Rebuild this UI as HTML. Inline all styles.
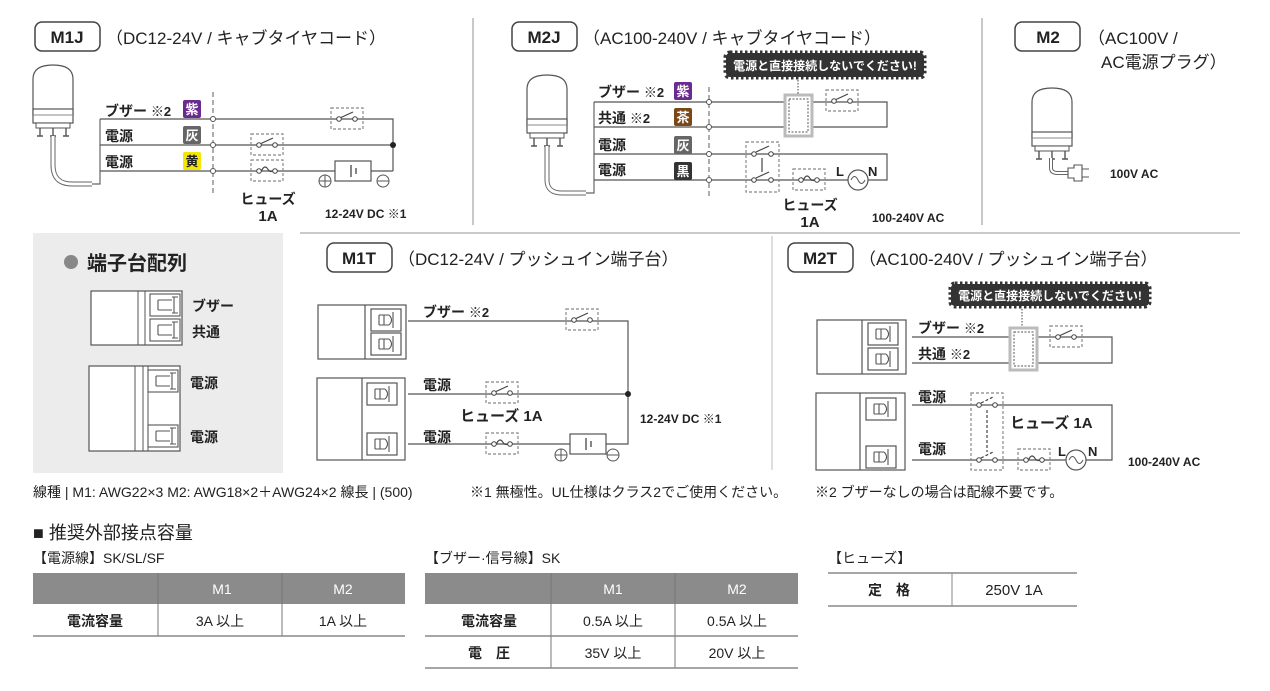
<!DOCTYPE html>
<html><head><meta charset="utf-8"><style>
html,body{margin:0;padding:0;background:#fff;}
svg{display:block;font-family:"Liberation Sans","Noto Sans CJK JP",sans-serif;}
text{fill:#222;}
</style></head><body>
<svg width="1270" height="691" viewBox="0 0 1270 691" xmlns="http://www.w3.org/2000/svg">
<defs>
<g id="sw">
<rect x="0" y="0" width="32" height="21" fill="none" stroke="#888" stroke-width="1.2" stroke-dasharray="3 2"/>
<circle cx="8" cy="11" r="2.3" fill="#fff" stroke="#444" stroke-width="1"/>
<circle cx="24" cy="11" r="2.3" fill="#fff" stroke="#444" stroke-width="1"/>
<line x1="10" y1="9.5" x2="22" y2="4" stroke="#444" stroke-width="1.2"/>
</g>
<g id="fu">
<rect x="0" y="0" width="32" height="21" fill="none" stroke="#888" stroke-width="1.2" stroke-dasharray="3 2"/>
<circle cx="8" cy="11" r="2.3" fill="#fff" stroke="#444" stroke-width="1"/>
<circle cx="24" cy="11" r="2.3" fill="#fff" stroke="#444" stroke-width="1"/>
<path d="M10.5 11 Q13 5 16 8 Q19 13 21.5 11" fill="none" stroke="#444" stroke-width="1.2"/>
</g>
<g id="lamp">
<path d="M0 50 L0 14 Q0 0 20 0 Q40 0 40 14 L40 50 Z" fill="#fff" stroke="#555" stroke-width="1.2"/>
<rect x="0" y="44" width="40" height="14" fill="#fff" stroke="#555" stroke-width="1.2"/>
<line x1="0" y1="50" x2="40" y2="50" stroke="#888"/>
<rect x="3" y="58" width="34" height="5" fill="#fff" stroke="#555"/>
<path d="M7 63 v8 M4 71 h6 M20 63 v8 M17 71 h6 M33 63 v8 M30 71 h6" stroke="#555" stroke-width="1.4" fill="none"/>
</g>
<g id="sock">
<rect x="0" y="0" width="30" height="22" fill="#fff" stroke="#555" stroke-width="1.2"/>
<path d="M8 6 h10 M8 16 h10 M8 6 v10 M13 6 v10 M18 6 q5 5 0 10 M22 3 v16" fill="none" stroke="#555" stroke-width="1.1"/>
</g>
<g id="tb">
<rect x="0" y="0" width="30" height="22" fill="none" stroke="#555" stroke-width="1.1"/>
<path d="M8 6 h14 M8 16 h14 M8 6 v10 M24 3 v16 M22 3 h6 M22 19 h6" fill="none" stroke="#555" stroke-width="1.1"/>
</g>
</defs>

<line x1="473" y1="18" x2="473" y2="225" stroke="#aaa" stroke-width="1.3"/>
<line x1="982" y1="18" x2="982" y2="225" stroke="#aaa" stroke-width="1.3"/>
<line x1="300" y1="233" x2="1240" y2="233" stroke="#aaa" stroke-width="1.3"/>
<line x1="772" y1="236" x2="772" y2="470" stroke="#ccc" stroke-width="1.3"/>

<!-- ===== M1J ===== -->
<rect x="35" y="22" width="65" height="29" rx="7" fill="#fff" stroke="#444" stroke-width="1.5"/>
<text x="67" y="43" font-size="17" font-weight="bold" text-anchor="middle">M1J</text>
<text x="106" y="44" font-size="17">（DC12-24V / キャブタイヤコード）</text>
<use href="#lamp" x="33" y="65"/>
<path d="M53 136 V165 Q53 184 72 184 H92" fill="none" stroke="#666" stroke-width="5"/>
<path d="M53 136 V165 Q53 184 72 184 H92" fill="none" stroke="#fff" stroke-width="3"/>
<path d="M92 184 H100 V119" fill="none" stroke="#666" stroke-width="1.2"/>
<line x1="213" y1="92" x2="213" y2="193" stroke="#777" stroke-width="1.2" stroke-dasharray="5 3"/>
<g stroke="#555" stroke-width="1.2" fill="none">
<path d="M100 119 H393 V171"/>
<path d="M100 145 H393"/>
<path d="M100 171 H335 M371 171 H393"/>
</g>
<circle cx="393" cy="145" r="3" fill="#222"/>
<g fill="#fff" stroke="#555"><circle cx="213" cy="119" r="2.5"/><circle cx="213" cy="145" r="2.5"/><circle cx="213" cy="171" r="2.5"/></g>
<use href="#sw" x="331" y="108"/>
<use href="#sw" x="251" y="134"/>
<use href="#fu" x="251" y="160"/>
<rect x="335" y="161" width="36" height="20" fill="#fff" stroke="#555" stroke-width="1.2"/>
<path d="M351 165 v12 M356 168 v6" stroke="#444" stroke-width="1.3"/>
<circle cx="325" cy="181" r="6" fill="#fff" stroke="#555"/><path d="M319 181 h12 M325 175 v12" stroke="#555"/>
<circle cx="383" cy="181" r="6" fill="#fff" stroke="#555"/><path d="M377 181 h12" stroke="#555"/>
<text x="105" y="116" font-size="14" font-weight="bold">ブザー <tspan font-size="13">※2</tspan></text>
<text x="105" y="141" font-size="14" font-weight="bold">電源</text>
<text x="105" y="167" font-size="14" font-weight="bold">電源</text>
<rect x="183" y="100" width="18" height="18" rx="2" fill="#6b2a8e"/><text x="192" y="114" font-size="13" text-anchor="middle" style="fill:#fff" font-weight="bold">紫</text>
<rect x="183" y="126" width="18" height="18" rx="2" fill="#666"/><text x="192" y="140" font-size="13" text-anchor="middle" style="fill:#fff" font-weight="bold">灰</text>
<rect x="183" y="152" width="18" height="18" rx="2" fill="#f3e600"/><text x="192" y="166" font-size="13" text-anchor="middle" font-weight="bold">黄</text>
<text x="268" y="204" font-size="14" font-weight="bold" text-anchor="middle">ヒューズ</text>
<text x="268" y="221" font-size="15" font-weight="bold" text-anchor="middle">1A</text>
<text x="325" y="218" font-size="12" font-weight="bold">12-24V DC ※1</text>

<!-- ===== M2J ===== -->
<rect x="512" y="22" width="65" height="29" rx="7" fill="#fff" stroke="#444" stroke-width="1.5"/>
<text x="544" y="43" font-size="17" font-weight="bold" text-anchor="middle">M2J</text>
<text x="583" y="44" font-size="17">（AC100-240V / キャブタイヤコード）</text>
<rect x="726" y="53" width="198" height="24" rx="4" fill="#333" stroke="#333" stroke-width="5" stroke-dasharray="2.5 2.5"/>
<text x="825" y="70" font-size="12" font-weight="bold" text-anchor="middle" style="fill:#fff">電源と直接接続しないでください!</text>
<line x1="798" y1="80" x2="798" y2="94" stroke="#444" stroke-dasharray="1.5 1.5"/>
<use href="#lamp" x="527" y="75"/>
<path d="M547 146 V180 Q547 193 562 193 H586" fill="none" stroke="#666" stroke-width="5"/>
<path d="M547 146 V180 Q547 193 562 193 H586" fill="none" stroke="#fff" stroke-width="3"/>
<path d="M586 193 H594 V102" fill="none" stroke="#666" stroke-width="1.2"/>
<line x1="709" y1="87" x2="709" y2="197" stroke="#777" stroke-width="1.2" stroke-dasharray="5 3"/>
<g stroke="#555" stroke-width="1.2" fill="none">
<path d="M594 102 H887 V127 H594"/>
<path d="M594 154 H887 V180 H868 M848 180 H594"/>
</g>
<g fill="#fff" stroke="#555"><circle cx="709" cy="102" r="2.5"/><circle cx="709" cy="127" r="2.5"/><circle cx="709" cy="154" r="2.5"/><circle cx="709" cy="180" r="2.5"/></g>
<rect x="785" y="95" width="27" height="41" fill="#fff" stroke="#bbb" stroke-width="3"/>
<rect x="789" y="99" width="19" height="33" fill="#fff" stroke="#555" stroke-dasharray="2 1.5"/>
<use href="#sw" x="826" y="90"/>
<rect x="746" y="142" width="33" height="50" fill="none" stroke="#888" stroke-width="1.2" stroke-dasharray="3 2"/>
<g fill="#fff" stroke="#444"><circle cx="754" cy="154" r="2.3"/><circle cx="771" cy="154" r="2.3"/><circle cx="754" cy="180" r="2.3"/><circle cx="771" cy="180" r="2.3"/></g>
<path d="M756 152 L769 146 M756 178 L769 172 M762 158 v14" stroke="#444" stroke-width="1.2" fill="none"/>
<use href="#fu" x="793" y="169"/>
<circle cx="858" cy="180" r="10" fill="#fff" stroke="#555" stroke-width="1.2"/>
<path d="M851 180 Q854.5 173 858 180 Q861.5 187 865 180" fill="none" stroke="#555"/>
<text x="836" y="176" font-size="13" font-weight="bold">L</text>
<text x="868" y="176" font-size="13" font-weight="bold">N</text>
<text x="598" y="97" font-size="14" font-weight="bold">ブザー <tspan font-size="13">※2</tspan></text>
<text x="598" y="123" font-size="14" font-weight="bold">共通 <tspan font-size="13">※2</tspan></text>
<text x="598" y="150" font-size="14" font-weight="bold">電源</text>
<text x="598" y="175" font-size="14" font-weight="bold">電源</text>
<rect x="674" y="82" width="18" height="18" rx="2" fill="#6b2a8e"/><text x="683" y="96" font-size="13" text-anchor="middle" style="fill:#fff" font-weight="bold">紫</text>
<rect x="674" y="108" width="18" height="18" rx="2" fill="#7a4716"/><text x="683" y="122" font-size="13" text-anchor="middle" style="fill:#fff" font-weight="bold">茶</text>
<rect x="674" y="136" width="18" height="18" rx="2" fill="#666"/><text x="683" y="150" font-size="13" text-anchor="middle" style="fill:#fff" font-weight="bold">灰</text>
<rect x="674" y="162" width="18" height="18" rx="2" fill="#333"/><text x="683" y="176" font-size="13" text-anchor="middle" style="fill:#fff" font-weight="bold">黒</text>
<text x="810" y="210" font-size="14" font-weight="bold" text-anchor="middle">ヒューズ</text>
<text x="810" y="227" font-size="15" font-weight="bold" text-anchor="middle">1A</text>
<text x="872" y="222" font-size="12" font-weight="bold">100-240V AC</text>

<!-- ===== M2 ===== -->
<rect x="1015" y="22" width="65" height="29" rx="7" fill="#fff" stroke="#444" stroke-width="1.5"/>
<text x="1048" y="43" font-size="17" font-weight="bold" text-anchor="middle">M2</text>
<text x="1088" y="44" font-size="17">（AC100V /</text>
<text x="1101" y="68" font-size="17">AC電源プラグ）</text>
<use href="#lamp" x="1032" y="88"/>
<path d="M1051 158 V168 Q1051 173 1058 173 H1068" fill="none" stroke="#666" stroke-width="4"/>
<path d="M1051 158 V168 Q1051 173 1058 173 H1068" fill="none" stroke="#fff" stroke-width="2"/>
<path d="M1068 168 h6 v-3 h8 v16 h-8 v-3 h-6 z M1082 169 h7 M1082 177 h7" fill="#fff" stroke="#555" stroke-width="1.1"/>
<text x="1110" y="178" font-size="12" font-weight="bold">100V AC</text>

<!-- ===== 端子台配列 ===== -->
<rect x="33" y="233" width="250" height="240" fill="#ececec"/>
<circle cx="71" cy="262" r="7" fill="#888"/>
<text x="87" y="270" font-size="20" font-weight="bold">端子台配列</text>
<g fill="#fff" stroke="#555" stroke-width="1.2">
<rect x="91" y="291" width="91" height="54"/>
<rect x="89" y="366" width="91" height="85"/>
</g>
<path d="M138 291 v54 M145 291 v54 M135 366 v85 M143 366 v85 M148 366 v85" stroke="#555" fill="none"/>
<use href="#tb" x="150" y="294"/><use href="#tb" x="150" y="319"/>
<use href="#tb" x="148" y="370"/><use href="#tb" x="148" y="425"/>
<text x="192" y="311" font-size="14" font-weight="bold">ブザー</text>
<text x="192" y="337" font-size="14" font-weight="bold">共通</text>
<text x="190" y="388" font-size="14" font-weight="bold">電源</text>
<text x="190" y="442" font-size="14" font-weight="bold">電源</text>

<!-- ===== M1T ===== -->
<rect x="327" y="243" width="65" height="29" rx="7" fill="#fff" stroke="#444" stroke-width="1.5"/>
<text x="359" y="264" font-size="17" font-weight="bold" text-anchor="middle">M1T</text>
<text x="398" y="265" font-size="17">（DC12-24V / プッシュイン端子台）</text>
<g fill="#fff" stroke="#555" stroke-width="1.2">
<rect x="318" y="305" width="88" height="54"/><line x1="365" y1="305" x2="365" y2="359"/>
<rect x="317" y="378" width="88" height="82"/><line x1="362" y1="378" x2="362" y2="460"/>
</g>
<use href="#sock" x="371" y="309"/><use href="#sock" x="371" y="333"/>
<use href="#sock" x="367" y="383"/><use href="#sock" x="367" y="433"/>
<g stroke="#555" stroke-width="1.2" fill="none">
<path d="M408 321 H628 V444 H606"/>
<path d="M408 394 H628"/>
<path d="M408 444 H570"/>
</g>
<circle cx="628" cy="394" r="3" fill="#222"/>
<use href="#sw" x="566" y="309"/>
<use href="#sw" x="486" y="382"/>
<use href="#fu" x="486" y="433"/>
<rect x="570" y="434" width="36" height="20" fill="#fff" stroke="#555" stroke-width="1.2"/>
<path d="M586 438 v12 M591 441 v6" stroke="#444" stroke-width="1.3"/>
<circle cx="561" cy="455" r="6" fill="#fff" stroke="#555"/><path d="M555 455 h12 M561 449 v12" stroke="#555"/>
<circle cx="613" cy="455" r="6" fill="#fff" stroke="#555"/><path d="M607 455 h12" stroke="#555"/>
<text x="423" y="317" font-size="14" font-weight="bold">ブザー <tspan font-size="13">※2</tspan></text>
<text x="423" y="390" font-size="14" font-weight="bold">電源</text>
<text x="460" y="421" font-size="15" font-weight="bold">ヒューズ 1A</text>
<text x="423" y="442" font-size="14" font-weight="bold">電源</text>
<text x="640" y="423" font-size="12" font-weight="bold">12-24V DC ※1</text>

<!-- ===== M2T ===== -->
<rect x="788" y="243" width="65" height="29" rx="7" fill="#fff" stroke="#444" stroke-width="1.5"/>
<text x="820" y="264" font-size="17" font-weight="bold" text-anchor="middle">M2T</text>
<text x="859" y="265" font-size="17">（AC100-240V / プッシュイン端子台）</text>
<rect x="951" y="284" width="198" height="22" rx="4" fill="#333" stroke="#333" stroke-width="5" stroke-dasharray="2.5 2.5"/>
<text x="1050" y="300" font-size="12" font-weight="bold" text-anchor="middle" style="fill:#fff">電源と直接接続しないでください!</text>
<line x1="1022" y1="309" x2="1022" y2="330" stroke="#444" stroke-dasharray="1.5 1.5"/>
<g fill="#fff" stroke="#555" stroke-width="1.2">
<rect x="817" y="320" width="89" height="54"/><line x1="862" y1="320" x2="862" y2="374"/>
<rect x="816" y="393" width="89" height="77"/><line x1="860" y1="393" x2="860" y2="470"/>
</g>
<use href="#sock" x="868" y="323"/><use href="#sock" x="868" y="348"/>
<use href="#sock" x="866" y="398"/><use href="#sock" x="866" y="446"/>
<g stroke="#555" stroke-width="1.2" fill="none">
<path d="M912 337 H1112 V363 H912"/>
<path d="M912 405 H1112 V460 H1086 M1066 460 H912"/>
</g>
<rect x="1010" y="328" width="27" height="42" fill="#fff" stroke="#bbb" stroke-width="3"/>
<rect x="1014" y="332" width="19" height="34" fill="#fff" stroke="#555" stroke-dasharray="2 1.5"/>
<use href="#sw" x="1050" y="326"/>
<rect x="971" y="393" width="32" height="77" fill="none" stroke="#888" stroke-width="1.2" stroke-dasharray="3 2"/>
<g fill="#fff" stroke="#444"><circle cx="979" cy="405" r="2.3"/><circle cx="995" cy="405" r="2.3"/><circle cx="979" cy="460" r="2.3"/><circle cx="995" cy="460" r="2.3"/></g>
<path d="M981 403 L993 397 M981 458 L993 452 M987 410 v42" stroke="#444" stroke-width="1.2" fill="none" stroke-dasharray="3 2"/>
<use href="#fu" x="1018" y="449"/>
<circle cx="1076" cy="460" r="10" fill="#fff" stroke="#555" stroke-width="1.2"/>
<path d="M1069 460 Q1072.5 453 1076 460 Q1079.5 467 1083 460" fill="none" stroke="#555"/>
<text x="1058" y="456" font-size="13" font-weight="bold">L</text>
<text x="1088" y="456" font-size="13" font-weight="bold">N</text>
<text x="918" y="333" font-size="14" font-weight="bold">ブザー <tspan font-size="13">※2</tspan></text>
<text x="918" y="359" font-size="14" font-weight="bold">共通 <tspan font-size="13">※2</tspan></text>
<text x="918" y="402" font-size="14" font-weight="bold">電源</text>
<text x="918" y="454" font-size="14" font-weight="bold">電源</text>
<text x="1010" y="428" font-size="15" font-weight="bold">ヒューズ  1A</text>
<text x="1128" y="466" font-size="12" font-weight="bold">100-240V AC</text>

<!-- notes -->
<text x="33" y="497" font-size="14">線種 | M1: AWG22×3  M2: AWG18×2＋AWG24×2  線長 | (500)</text>
<text x="470" y="497" font-size="14">※1 無極性。UL仕様はクラス2でご使用ください。</text>
<text x="815" y="497" font-size="14">※2 ブザーなしの場合は配線不要です。</text>

<!-- tables -->
<text x="33" y="539" font-size="18">■ 推奨外部接点容量</text>
<text x="33" y="563" font-size="14">【電源線】SK/SL/SF</text>
<rect x="33" y="573" width="372" height="31" fill="#8b8b8b"/>
<path d="M158 573 v63 M282 573 v63" stroke="#777" stroke-width="1"/>
<line x1="33" y1="636" x2="405" y2="636" stroke="#888" stroke-width="1.5"/>
<text x="222" y="594" font-size="14" text-anchor="middle" style="fill:#fff">M1</text>
<text x="343" y="594" font-size="14" text-anchor="middle" style="fill:#fff">M2</text>
<text x="95" y="626" font-size="14" font-weight="bold" text-anchor="middle">電流容量</text>
<text x="220" y="626" font-size="14" text-anchor="middle">3A 以上</text>
<text x="343" y="626" font-size="14" text-anchor="middle">1A 以上</text>

<text x="425" y="563" font-size="14">【ブザー·信号線】SK</text>
<rect x="425" y="573" width="373" height="31" fill="#8b8b8b"/>
<path d="M551 573 v95 M675 573 v95" stroke="#777" stroke-width="1"/>
<line x1="425" y1="636" x2="798" y2="636" stroke="#888" stroke-width="1.5"/>
<line x1="425" y1="668" x2="798" y2="668" stroke="#888" stroke-width="1.5"/>
<text x="613" y="594" font-size="14" text-anchor="middle" style="fill:#fff">M1</text>
<text x="737" y="594" font-size="14" text-anchor="middle" style="fill:#fff">M2</text>
<text x="489" y="626" font-size="14" font-weight="bold" text-anchor="middle">電流容量</text>
<text x="613" y="626" font-size="14" text-anchor="middle">0.5A 以上</text>
<text x="737" y="626" font-size="14" text-anchor="middle">0.5A 以上</text>
<text x="489" y="658" font-size="14" font-weight="bold" text-anchor="middle">電　圧</text>
<text x="613" y="658" font-size="14" text-anchor="middle">35V 以上</text>
<text x="737" y="658" font-size="14" text-anchor="middle">20V 以上</text>

<text x="828" y="563" font-size="14">【ヒューズ】</text>
<line x1="828" y1="573" x2="1077" y2="573" stroke="#888" stroke-width="1.5"/>
<line x1="828" y1="606" x2="1077" y2="606" stroke="#888" stroke-width="1.5"/>
<line x1="952" y1="573" x2="952" y2="606" stroke="#888"/>
<text x="889" y="595" font-size="14" font-weight="bold" text-anchor="middle">定　格</text>
<text x="1014" y="595" font-size="15" text-anchor="middle">250V 1A</text>
</svg>
</body></html>
